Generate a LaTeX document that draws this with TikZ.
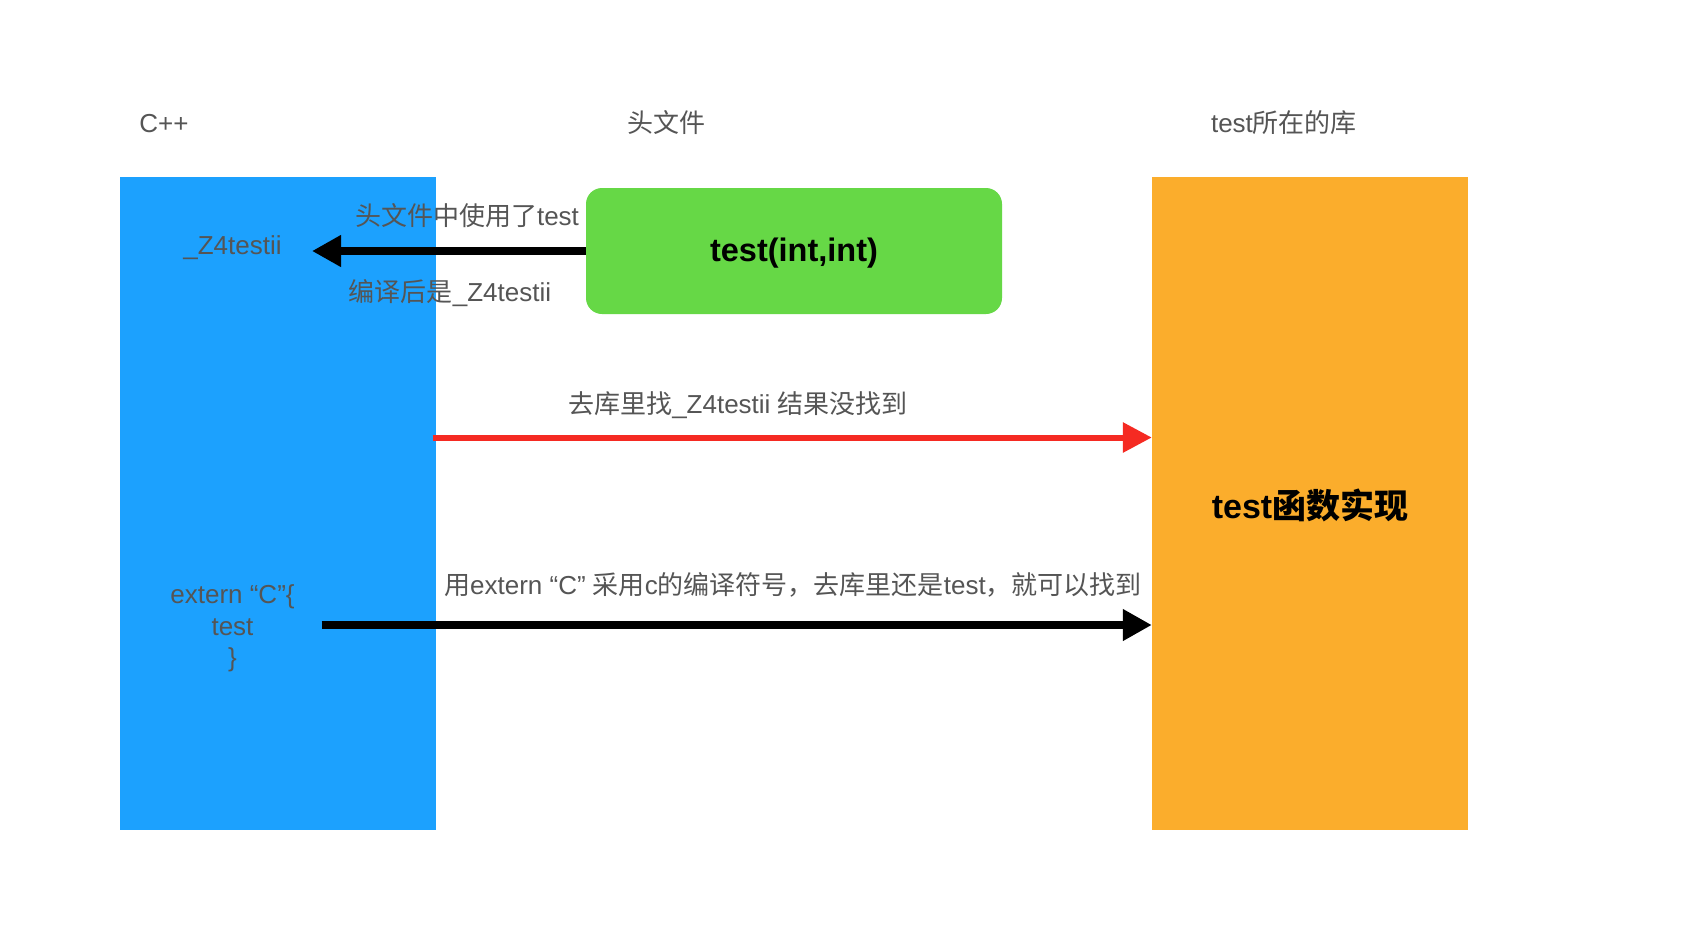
\documentclass[tikz,border=0pt]{standalone}
\usepackage{fontspec}
\setmainfont{Liberation Sans}
\newfontfamily\cjk{Noto Sans CJK SC}
\usetikzlibrary{arrows.meta}
\newcommand\zh[1]{{\cjk #1}}
\definecolor{cblue}{HTML}{1CA1FE}
\definecolor{cgreen}{HTML}{66D846}
\definecolor{corange}{HTML}{FBAD2C}
\definecolor{cred}{HTML}{F52A22}
\definecolor{ctext}{HTML}{555555}
\tikzset{
  panel/.style={fill=#1, draw=none, inner sep=0pt},
  lbl/.style={text=ctext, font=\fontsize{26}{31}\selectfont, inner sep=0pt},
  big/.style={text=black, font=\fontsize{#1}{40}\selectfont\bfseries, inner sep=0pt},
  thickarrow/.style={line width=8pt, -{Triangle[length=29pt,width=30pt]}},
}
\begin{document}
\begin{tikzpicture}[x=1pt,y=-1pt]
\path[use as bounding box, fill=white] (0,0) rectangle (1704,946);

% panels
\node[panel=cblue, minimum width=316pt, minimum height=653pt] (cpp) at (277.6,503.5) {};
\node[panel=corange, minimum width=316pt, minimum height=653pt] (lib) at (1310,503.5) {};
\node[panel=cgreen, minimum width=416pt, minimum height=126pt, rounded corners=16pt] (hdr) at (794,251) {};
\node[big=32.5] at ([yshift=-2pt]hdr.center) {test(int,int)};
\node[big=34] (impl) at (1310,505.5) {test{\cjk\bfseries 函数实现}};

% titles
\node[lbl] (tcpp) at (164,123.5) {C++};
\node[lbl] (thdr) at (666,122.5) {\zh{头文件}};
\node[lbl] (tlib) at (1284,122.5) {test\zh{所在的库}};

% texts in blue panel
\node[lbl] (z4) at (232.5,247.5) {\_Z4testii};
\node[lbl, align=center, font=\fontsize{26}{31.5}\selectfont] (ext) at (232.5,628.5) {extern “C”\{\\test\\\}};

% labels
\node[lbl] (l1) at (467,216) {\zh{头文件中使用了}test};
\node[lbl] (l2) at (450,293) {\zh{编译后是}\_Z4testii};
\node[lbl] (l3) at (738,405) {\zh{去库里找}\_Z4testii \zh{结果没找到}};
\node[lbl] (l4) at (793,584.5) {\zh{用}extern “C” \zh{采用}c\zh{的编译符号，去库里还是}test\zh{，就可以找到}};

% connectors
\coordinate (a1end) at (312,251);
\draw[thickarrow] (hdr.west) -- (a1end);

\coordinate (redstart) at (432.5,437.5);
\draw[line width=6pt, cred, -{Triangle[length=29pt,width=29pt]}] (redstart) -- (redstart -| lib.west);

\coordinate (a3start) at (321.7,625);
\draw[thickarrow] (a3start) -- (a3start -| lib.west);
\end{tikzpicture}
\end{document}
